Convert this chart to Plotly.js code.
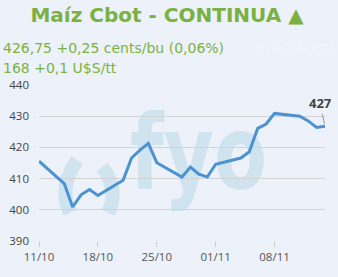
<!DOCTYPE html>
<html>
<head>
<meta charset="utf-8">
<script src="https://cdn.plot.ly/plotly-3.0.1.min.js"></script>
<style>
html,body{margin:0;padding:0;background:#edf1f9;}
#chart{width:338px;height:277px;}
</style>
</head>
<body>
<div id="chart"></div>
<script>
const dates = ['2019-10-11','2019-10-14','2019-10-15','2019-10-16','2019-10-17','2019-10-18',
  '2019-10-21','2019-10-22','2019-10-23','2019-10-24','2019-10-25',
  '2019-10-28','2019-10-29','2019-10-30','2019-10-31','2019-11-01',
  '2019-11-04','2019-11-05','2019-11-06','2019-11-07','2019-11-08',
  '2019-11-11','2019-11-12','2019-11-13','2019-11-14'];
const values = [415.6,408.4,400.9,404.8,406.5,404.6,
  409.5,416.6,419.1,421.3,415.1,
  410.5,413.7,411.4,410.5,414.6,
  416.6,418.6,426.1,427.5,430.9,
  430.0,428.5,426.4,426.75];
const titleText = 'Maíz Cbot - CONTINUA ▲';
const line1 = '426,75 +0,25 cents/bu (0,06%)';
const line2 = '168 +0,1 U$S/tt';
const lastLabel = '427';
const yTicks = [390,400,410,420,430,440];

// decorative watermark (logo), drawn beneath the grid and the line
const wm = '<svg xmlns="http://www.w3.org/2000/svg" width="220" height="110" viewBox="0 0 220 110">' +
  '<g fill="none" stroke="#d0e4f0" stroke-width="14">' +
  '<path d="M27,55 Q8,83 20,108"/>' +
  '<path d="M52,62 Q70,85 58,108"/>' +
  '</g>' +
  '<text x="80" y="84" font-family="DejaVu Sans" font-weight="bold" font-size="104" fill="#d0e4f0" textLength="137" lengthAdjust="spacingAndGlyphs">fyo</text>' +
  '</svg>';
const wmUrl = 'data:image/svg+xml;charset=utf-8,' + encodeURIComponent(wm);

const trace = {
  x: dates, y: values, type: 'scatter', mode: 'lines',
  line: {color: '#4b92d3', width: 3}, hoverinfo: 'skip'
};

const layout = {
  width: 338, height: 277,
  paper_bgcolor: '#edf1f9', plot_bgcolor: '#edf1f9',
  margin: {l: 39, r: 13, t: 85, b: 36},
  showlegend: false,
  title: {text: '<b>' + titleText + '</b>', font: {family: 'DejaVu Sans', size: 20, color: '#7ab142'},
    xref: 'container', x: 167/338, xanchor: 'center', yref: 'container', y: 1 - 15/277, yanchor: 'middle'},
  xaxis: {
    type: 'date', range: [dates[0], dates[dates.length-1]],
    tick0: dates[0], dtick: 7*24*3600*1000, tickformat: '%d/%m',
    showgrid: false, zeroline: false, showline: false,
    ticks: 'outside', ticklen: 5, tickcolor: '#cccccc',
    tickfont: {family: 'Open Sans', size: 11.5, color: '#555555'}
  },
  yaxis: {
    range: [390, 440], tickvals: yTicks, showgrid: true, gridcolor: '#d3d3d3', gridwidth: 1,
    zeroline: false, showline: false, ticks: '', ticklabelstandoff: 9,
    tickfont: {family: 'Open Sans', size: 11.5, color: '#444444'}
  },
  images: [{
    source: wmUrl, xref: 'paper', yref: 'paper',
    x: (50-39)/286, y: (241-105)/156, sizex: 220/286, sizey: 110/156,
    xanchor: 'left', yanchor: 'top', sizing: 'stretch', layer: 'below'
  }],
  annotations: [
    {text: line1, xref: 'paper', yref: 'paper', x: 0, xshift: -38, y: (241-48.5)/156,
     xanchor: 'left', yanchor: 'middle', showarrow: false,
     font: {family: 'DejaVu Sans', size: 14, color: '#7ab142'}},
    {text: line2, xref: 'paper', yref: 'paper', x: 0, xshift: -38, y: (241-68)/156,
     xanchor: 'left', yanchor: 'middle', showarrow: false,
     font: {family: 'DejaVu Sans', size: 14, color: '#7ab142'}},
    {text: '#¿NOMBRE?', xref: 'paper', yref: 'paper', x: 1, xshift: 12, y: (241-49)/156,
     xanchor: 'right', yanchor: 'middle', showarrow: false,
     font: {family: 'DejaVu Sans', size: 13, color: '#f2f5fb'}},
    {text: '<b>' + lastLabel + '</b>', x: dates[dates.length-1], y: values[values.length-1],
     xref: 'x', yref: 'y', showarrow: true, arrowhead: 0, arrowwidth: 1, arrowcolor: '#999999',
     ax: -5, ay: -23, standoff: 2,
     font: {family: 'Open Sans', size: 13, color: '#444444'}}
  ]
};

Plotly.newPlot('chart', [trace], layout, {staticPlot: true, displayModeBar: false});
</script>
</body>
</html>
